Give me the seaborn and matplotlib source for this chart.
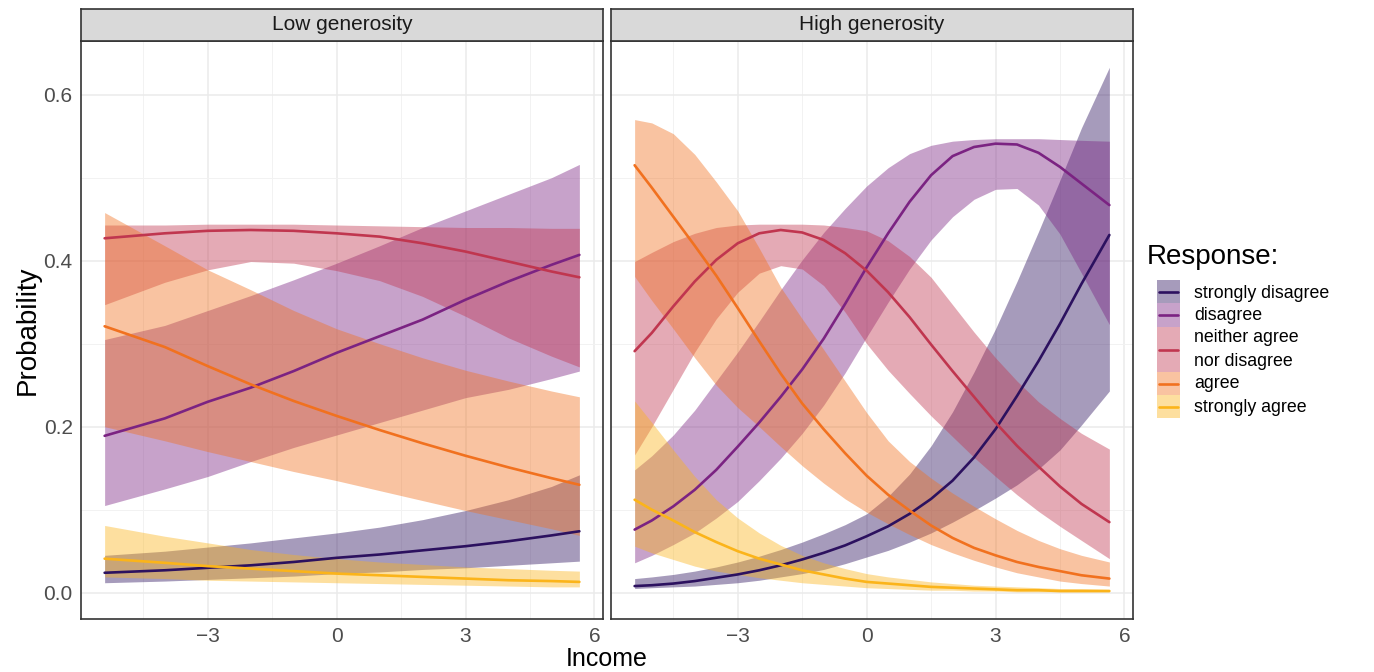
import numpy as np
import pandas as pd
import matplotlib
matplotlib.use("Agg")
import matplotlib.pyplot as plt
from matplotlib.patches import Rectangle
from matplotlib.lines import Line2D
from matplotlib.ticker import MultipleLocator
import seaborn as sns

# ---------------- data ----------------
responses = ["strongly disagree", "disagree", "neither agree\nnor disagree",
             "agree", "strongly agree"]
panels = ["Low generosity", "High generosity"]

x_low = [-5.4, -4, -3, -2, -1, 0, 1, 2, 3, 4, 5, 5.65]

low_sd_fit = [0.024, 0.027, 0.030, 0.033, 0.037, 0.042, 0.046, 0.051, 0.056, 0.062, 0.069, 0.074]
low_sd_lo = [0.012, 0.014, 0.016, 0.018, 0.020, 0.023, 0.025, 0.028, 0.030, 0.033, 0.036, 0.038]
low_sd_hi = [0.045, 0.050, 0.055, 0.060, 0.066, 0.072, 0.079, 0.088, 0.099, 0.112, 0.128, 0.142]

low_d_fit = [0.189, 0.210, 0.230, 0.247, 0.267, 0.289, 0.309, 0.329, 0.353, 0.375, 0.395, 0.407]
low_d_lo = [0.105, 0.125, 0.140, 0.158, 0.175, 0.190, 0.205, 0.220, 0.235, 0.245, 0.258, 0.267]
low_d_hi = [0.305, 0.322, 0.340, 0.358, 0.377, 0.397, 0.418, 0.440, 0.460, 0.480, 0.500, 0.516]

low_n_fit = [0.427, 0.433, 0.436, 0.437, 0.436, 0.433, 0.429, 0.421, 0.411, 0.399, 0.387, 0.380]
low_n_lo = [0.347, 0.374, 0.389, 0.399, 0.397, 0.388, 0.376, 0.357, 0.333, 0.307, 0.285, 0.272]
low_n_hi = [0.443, 0.443, 0.444, 0.444, 0.444, 0.443, 0.442, 0.441, 0.440, 0.440, 0.439, 0.439]

low_a_fit = [0.321, 0.296, 0.273, 0.251, 0.231, 0.213, 0.196, 0.180, 0.165, 0.151, 0.138, 0.130]
low_a_lo = [0.200, 0.183, 0.170, 0.158, 0.146, 0.135, 0.123, 0.111, 0.099, 0.088, 0.077, 0.069]
low_a_hi = [0.458, 0.418, 0.389, 0.365, 0.340, 0.318, 0.300, 0.283, 0.268, 0.255, 0.243, 0.236]

low_sa_fit = [0.041, 0.036, 0.032, 0.029, 0.026, 0.023, 0.021, 0.019, 0.017, 0.015, 0.014, 0.013]
low_sa_lo = [0.019, 0.017, 0.015, 0.014, 0.013, 0.012, 0.011, 0.010, 0.009, 0.008, 0.007, 0.007]
low_sa_hi = [0.081, 0.068, 0.060, 0.052, 0.046, 0.041, 0.037, 0.034, 0.031, 0.029, 0.027, 0.026]

x_high = [-5.4, -5, -4.5, -4, -3.5, -3, -2.5, -2, -1.5, -1, -0.5, 0,
          0.5, 1, 1.5, 2, 2.5, 3, 3.5, 4, 4.5, 5, 5.65]

high_sd_fit = [0.008, 0.009, 0.011, 0.014, 0.018, 0.022, 0.027, 0.033, 0.040, 0.048, 0.057, 0.068,
               0.080, 0.095, 0.113, 0.135, 0.163, 0.197, 0.237, 0.279, 0.324, 0.372, 0.431]
high_sd_lo = [0.005, 0.006, 0.007, 0.008, 0.010, 0.012, 0.015, 0.019, 0.023, 0.028, 0.035, 0.043,
              0.051, 0.061, 0.072, 0.085, 0.099, 0.114, 0.130, 0.149, 0.172, 0.202, 0.243]
high_sd_hi = [0.017, 0.019, 0.022, 0.026, 0.031, 0.037, 0.044, 0.052, 0.061, 0.071, 0.082, 0.095,
              0.116, 0.143, 0.177, 0.218, 0.266, 0.318, 0.375, 0.435, 0.497, 0.560, 0.633]

high_d_fit = [0.076, 0.087, 0.104, 0.124, 0.148, 0.176, 0.205, 0.236, 0.269, 0.306, 0.348, 0.392,
              0.433, 0.471, 0.503, 0.526, 0.537, 0.541, 0.540, 0.530, 0.513, 0.493, 0.467]
high_d_lo = [0.036, 0.045, 0.058, 0.072, 0.090, 0.110, 0.135, 0.162, 0.192, 0.226, 0.265, 0.308,
             0.350, 0.390, 0.425, 0.453, 0.474, 0.486, 0.487, 0.467, 0.432, 0.385, 0.323]
high_d_hi = [0.148, 0.165, 0.190, 0.220, 0.255, 0.290, 0.327, 0.365, 0.401, 0.434, 0.463, 0.490,
             0.512, 0.529, 0.539, 0.544, 0.546, 0.547, 0.547, 0.547, 0.546, 0.545, 0.544]

high_n_fit = [0.291, 0.313, 0.345, 0.375, 0.401, 0.421, 0.433, 0.437, 0.434, 0.425, 0.409, 0.388,
              0.362, 0.332, 0.299, 0.267, 0.236, 0.205, 0.177, 0.152, 0.128, 0.107, 0.085]
high_n_lo = [0.166, 0.200, 0.245, 0.290, 0.330, 0.362, 0.385, 0.394, 0.390, 0.370, 0.338, 0.300,
             0.268, 0.240, 0.213, 0.188, 0.163, 0.140, 0.118, 0.098, 0.080, 0.063, 0.041]
high_n_hi = [0.399, 0.410, 0.423, 0.433, 0.440, 0.443, 0.444, 0.444, 0.444, 0.443, 0.440, 0.436,
             0.424, 0.405, 0.380, 0.347, 0.314, 0.283, 0.255, 0.230, 0.210, 0.192, 0.173]

high_a_fit = [0.515, 0.488, 0.453, 0.418, 0.382, 0.343, 0.303, 0.264, 0.228, 0.197, 0.168, 0.141,
              0.118, 0.099, 0.081, 0.066, 0.054, 0.045, 0.037, 0.031, 0.026, 0.021, 0.017]
high_a_lo = [0.381, 0.352, 0.318, 0.283, 0.250, 0.223, 0.200, 0.176, 0.153, 0.132, 0.113, 0.097,
             0.083, 0.070, 0.058, 0.048, 0.039, 0.031, 0.024, 0.019, 0.014, 0.011, 0.008]
high_a_hi = [0.570, 0.566, 0.553, 0.528, 0.495, 0.460, 0.415, 0.368, 0.330, 0.293, 0.255, 0.217,
             0.183, 0.158, 0.138, 0.120, 0.104, 0.089, 0.075, 0.063, 0.053, 0.045, 0.037]

high_sa_fit = [0.112, 0.100, 0.087, 0.073, 0.061, 0.050, 0.041, 0.034, 0.027, 0.022, 0.017, 0.013,
               0.011, 0.009, 0.007, 0.006, 0.005, 0.004, 0.003, 0.003, 0.002, 0.002, 0.002]
high_sa_lo = [0.056, 0.048, 0.040, 0.032, 0.026, 0.022, 0.018, 0.015, 0.012, 0.010, 0.008, 0.006,
              0.005, 0.004, 0.003, 0.003, 0.002, 0.002, 0.001, 0.001, 0.001, 0.001, 0.001]
high_sa_hi = [0.231, 0.205, 0.172, 0.140, 0.112, 0.090, 0.072, 0.057, 0.045, 0.036, 0.029, 0.023,
              0.019, 0.016, 0.013, 0.011, 0.009, 0.008, 0.007, 0.006, 0.005, 0.005, 0.004]

x_ticks = [-3, 0, 3, 6]
y_ticks = [0.0, 0.2, 0.4, 0.6]
y_tick_labels = ["0.0", "0.2", "0.4", "0.6"]

colors = ["#2c115f", "#7b2382", "#c0364f", "#f1711f", "#fbb41a"]

# ---------------- assemble long table ----------------
series = {
    "Low generosity": (x_low, [
        (low_sd_fit, low_sd_lo, low_sd_hi), (low_d_fit, low_d_lo, low_d_hi),
        (low_n_fit, low_n_lo, low_n_hi), (low_a_fit, low_a_lo, low_a_hi),
        (low_sa_fit, low_sa_lo, low_sa_hi)]),
    "High generosity": (x_high, [
        (high_sd_fit, high_sd_lo, high_sd_hi), (high_d_fit, high_d_lo, high_d_hi),
        (high_n_fit, high_n_lo, high_n_hi), (high_a_fit, high_a_lo, high_a_hi),
        (high_sa_fit, high_sa_lo, high_sa_hi)]),
}
rows = []
for panel, (xs, groups) in series.items():
    for resp, (fit, lo, hi) in zip(responses, groups):
        for x, f, l, h in zip(xs, fit, lo, hi):
            rows.append(dict(panel=panel, response=resp, income=x, prob=f, lo=l, hi=h))
df = pd.DataFrame(rows)

# ---------------- figure ----------------
sns.set_theme(style="white")
plt.rcParams["font.family"] = ["Liberation Sans", "DejaVu Sans"]

W, H = 1374, 672
fig = plt.figure(figsize=(W / 100, H / 100), dpi=100)
fig.patch.set_facecolor("white")


def px_axes(x0, y0, x1, y1):
    return fig.add_axes([x0 / W, 1 - y1 / H, (x1 - x0) / W, (y1 - y0) / H])


edge = "#333333"
panel_px = [(81, 603), (611, 1133)]
panel_top, panel_bottom = 41, 619
palette = dict(zip(responses, colors))

for i, (panel, (px0, px1)) in enumerate(zip(panels, panel_px)):
    ax = px_axes(px0, panel_top, px1, panel_bottom)
    sub = df[df.panel == panel]
    for resp in responses:
        d = sub[sub.response == resp]
        ax.fill_between(d.income, d.lo, d.hi, color=palette[resp], alpha=0.42,
                        linewidth=0, zorder=2)
    sns.lineplot(data=sub, x="income", y="prob", hue="response", palette=palette,
                 hue_order=responses, estimator=None, sort=True, linewidth=1.9,
                 legend=False, ax=ax, zorder=3)

    ax.set_xlim(-5.95, 6.2)
    ax.set_ylim(-0.0317, 0.6647)
    ax.set_xticks(x_ticks)
    ax.set_yticks(y_ticks)
    ax.xaxis.set_minor_locator(MultipleLocator(1.5))
    ax.yaxis.set_minor_locator(MultipleLocator(0.1))
    ax.grid(which="major", color="#ebebeb", linewidth=1.1, zorder=0)
    ax.grid(which="minor", color="#f2f2f2", linewidth=0.7, zorder=0)
    ax.set_axisbelow(True)
    ax.set_xlabel("")
    ax.set_ylabel("")
    for s in ax.spines.values():
        s.set_color(edge)
        s.set_linewidth(1.2)
    ax.tick_params(axis="both", which="major", direction="out", length=4, width=1.0,
                   color=edge, labelsize=15, labelcolor="#4d4d4d", pad=2)
    ax.tick_params(axis="both", which="minor", length=0)
    ax.set_yticklabels(y_tick_labels)
    if i == 1:
        ax.tick_params(axis="y", which="major", left=False, labelleft=False)

    # facet strip
    strip = px_axes(px0, 9, px1, panel_top)
    strip.set_facecolor("#d9d9d9")
    strip.set_xticks([])
    strip.set_yticks([])
    for s in strip.spines.values():
        s.set_color(edge)
        s.set_linewidth(1.2)
    strip.text(0.5, 0.5, panel, ha="center", va="center", fontsize=15,
               color="#1a1a1a", transform=strip.transAxes)

# axis titles
fig.text(28 / W, 1 - 330 / H, "Probability", rotation=90, ha="center", va="center",
         fontsize=20, color="black")
fig.text(607 / W, 1 - 666.5 / H, "Income", ha="center", va="baseline",
         fontsize=18, color="black")

# legend
fig.text(1147 / W, 1 - 257 / H, "Response:", ha="left", va="center", fontsize=20,
         color="black")
key_rows = [(280, 303), (303, 327), (327, 372), (372, 395), (395, 418)]
label_rows = [[293], [316], [338, 361], [384], [407]]
label_texts = [["strongly disagree"], ["disagree"], ["neither agree", "nor disagree"],
               ["agree"], ["strongly agree"]]
for col, (k0, k1), ys, txts in zip(colors, key_rows, label_rows, label_texts):
    fig.patches.append(Rectangle((1157 / W, 1 - k1 / H), 23 / W, (k1 - k0) / H,
                                 transform=fig.transFigure, facecolor=col, alpha=0.42,
                                 edgecolor="none"))
    ym = (k0 + k1) / 2
    fig.lines.append(Line2D([1159 / W, 1178 / W], [1 - ym / H, 1 - ym / H],
                            transform=fig.transFigure, color=col, linewidth=1.9))
    for y, t in zip(ys, txts):
        fig.text(1194 / W, 1 - y / H, t, ha="left", va="center", fontsize=12.75,
                 color="black")

fig.savefig("out.png", dpi=100, facecolor="white")
